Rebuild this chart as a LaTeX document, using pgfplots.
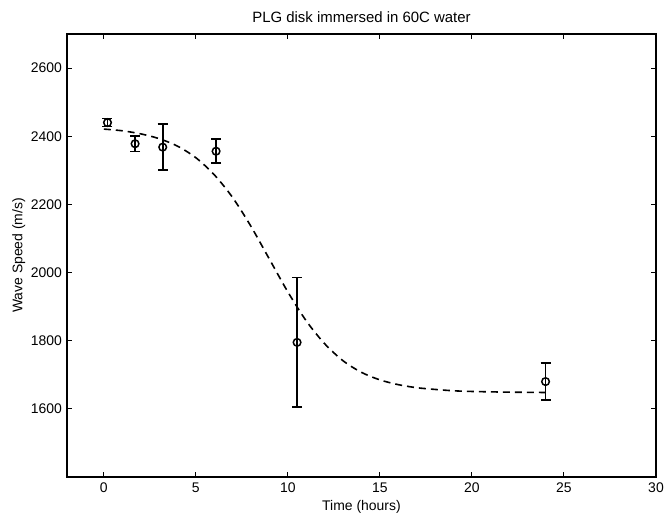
\documentclass[border=0pt]{standalone}
\usepackage{pgfplots}
\pgfplotsset{compat=1.18}
\usepackage{fontspec}
\setmainfont{Liberation Sans}

\begin{document}
\begin{tikzpicture}
\useasboundingbox (-67bp,-36bp) rectangle (597bp,477bp);
\begin{axis}[
    at={(0,0)}, anchor=south west,
    scale only axis,
    width=589bp, height=443bp,
    xmin=-2, xmax=30,
    ymin=1400, ymax=2700,
    xtick={0,5,10,15,20,25,30},
    ytick={1600,1800,2000,2200,2400,2600},
    tick align=inside,
    major tick length=5bp,
    axis line style={line width=1.3bp},
    every tick/.style={line width=1bp, black},
    /pgf/number format/assume math mode=true,
    /pgf/number format/1000 sep={},
    tick label style={font=\fontsize{14}{16}\selectfont},
    xticklabel style={yshift=-2bp},
    yticklabel style={xshift=-1.5bp},
    title={PLG disk immersed in 60C water},
    title style={at={(axis description cs:0.5,1)}, anchor=south, yshift=2bp,
                 font=\fontsize{15}{17}\selectfont},
    xlabel={Time (hours)},
    xlabel style={at={(axis description cs:0.5,0)}, anchor=center, yshift=-30bp,
                  font=\fontsize{14}{16}\selectfont},
    ylabel={Wave Speed (m/s)},
    ylabel style={at={(axis description cs:-0.082,0.5)}, anchor=center,
                  font=\fontsize{14}{16}\selectfont},
]
% fitted curve (dashed)
\addplot[black, line width=1.6bp, dash pattern=on 7bp off 5bp, smooth] coordinates {
    (0,2421) (1,2416) (2,2407) (3,2393) (4,2371) (5,2337) (6,2287)
    (7,2220) (8,2135) (9,2039) (10,1943) (11,1858) (12,1791) (13,1741)
    (14,1707) (15,1685) (16,1671) (17,1662) (18,1657) (19,1653)
    (20,1651) (22,1649) (24,1648)
};
% measured points with error bars
\addplot[black, only marks, mark=o, mark size=3.8bp, line width=1.5bp,
    error bars/.cd, y dir=both, y explicit,
    error bar style={line width=1.6bp},
    error mark options={rotate=90, mark size=5bp, line width=1.6bp}]
    table[x=x, y=y, y error=e] {
x    y     e
0.2  2440  12
1.7  2378  23
3.2  2368  67
6.1  2356  35
10.5 1795  190
24.0 1680  54
};
\end{axis}
\end{tikzpicture}
\end{document}
